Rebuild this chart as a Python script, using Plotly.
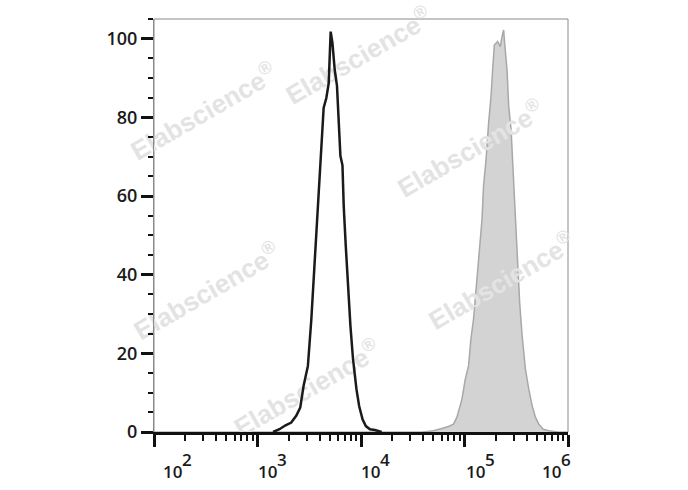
import plotly.graph_objects as go

# ---- data (x given as log10 of fluorescence) ----
black_log_fl = [3.15, 3.212, 3.271, 3.326, 3.374, 3.413, 3.445, 3.487, 3.520, 3.552,
                3.574, 3.600, 3.627, 3.639, 3.665, 3.688, 3.707, 3.724, 3.746, 3.768,
                3.785, 3.801, 3.821, 3.833, 3.853, 3.875, 3.898, 3.923, 3.956, 3.982,
                4.015, 4.047, 4.086, 4.134, 4.20]
black_count = [0, 0.7, 1.7, 2.4, 4.1, 6.2, 11.7, 16.8, 28.6, 42.2,
               52.3, 64.2, 76.9, 82.4, 84.9, 88.7, 101.8, 98.9, 92.1, 88.0,
               79.4, 70.2, 67.8, 57.4, 47.2, 37.1, 26.9, 18.5, 10.9, 6.6,
               3.2, 1.5, 0.7, 0.5, 0]

grey_log_fl = [4.60, 4.699, 4.781, 4.845, 4.893, 4.926, 4.975, 5.007, 5.039, 5.062,
               5.087, 5.113, 5.143, 5.169, 5.184, 5.208, 5.233, 5.256, 5.272, 5.288,
               5.320, 5.346, 5.363, 5.378, 5.395, 5.411, 5.427, 5.450, 5.469, 5.492,
               5.514, 5.533, 5.557, 5.589, 5.621, 5.654, 5.686, 5.718, 5.760, 5.815, 5.90]
grey_count = [0, 0.3, 0.9, 1.4, 2.0, 3.7, 8.3, 13.4, 16.8, 23.6,
              28.6, 37.1, 45.6, 54.0, 62.5, 69.2, 78.6, 85.3, 92.1, 98.4,
              99.3, 98.0, 100.5, 102.2, 96.7, 92.1, 82.8, 76.9, 66.7, 54.0,
              41.3, 32.9, 24.4, 15.9, 10.9, 6.6, 3.7, 2.0, 0.7, 0.3, 0]

y_tick_vals = [0, 20, 40, 60, 80, 100]
x_decades = [2, 3, 4, 5, 6]
x_tick_base = "10"

watermark_text = "Elabscience<sup>®</sup>"
# centres in paper coordinates, and whether drawn above the data
watermark_x = [0.495, 0.12, 0.765, 0.128, 0.84, 0.37]
watermark_y = [0.91, 0.775, 0.685, 0.34, 0.365, 0.105]
watermark_above = [False, False, True, False, True, False]
label_xshift = [7, -2, -2, -1, -28]

FONT = "Open Sans"
fig = go.Figure()

fig.add_trace(go.Scatter(
    x=[10 ** v for v in grey_log_fl], y=grey_count, mode="lines",
    fill="tozeroy", fillcolor="#d3d3d3",
    line=dict(color="#a8a8a8", width=1.5), hoverinfo="skip", showlegend=False))
fig.add_trace(go.Scatter(
    x=[10 ** v for v in black_log_fl], y=black_count, mode="lines",
    line=dict(color="#1a1a1a", width=2.5), hoverinfo="skip", showlegend=False))

minor_x = [m * 10 ** d for d in x_decades[:-1] for m in range(2, 10)]

fig.update_layout(
    width=688, height=490,
    margin=dict(l=154, r=120, t=19, b=58, pad=0),
    paper_bgcolor="white", plot_bgcolor="white",
    showlegend=False,
    xaxis=dict(
        type="log", range=[x_decades[0], x_decades[-1]],
        showline=True, linecolor="#111111", linewidth=3,
        ticks="outside", tickvals=[10 ** d for d in x_decades],
        ticklen=12, tickwidth=3, tickcolor="#111111",
        showticklabels=False, showgrid=False, zeroline=False,
        minor=dict(ticks="outside", tickvals=minor_x, ticklen=6,
                   tickwidth=2, tickcolor="#111111", showgrid=False),
    ),
    yaxis=dict(
        range=[0, 105],
        showline=True, linecolor="#8a8a8a", linewidth=1,
        ticks="outside", tickvals=y_tick_vals,
        ticklen=12, tickwidth=3, tickcolor="#111111",
        tickfont=dict(family=FONT, size=18, color="#1a1a1a", weight=600),
        showgrid=False, zeroline=False,
        minor=dict(ticks="outside", dtick=5, ticklen=5, tickwidth=2,
                   tickcolor="#111111", showgrid=False),
    ),
)

# frame
fig.add_shape(type="rect", xref="paper", yref="paper", x0=0, y0=0, x1=1, y1=1,
              line=dict(color="#8a8a8a", width=1), fillcolor="rgba(0,0,0,0)",
              layer="below")

# watermarks
for wx, wy, above in zip(watermark_x, watermark_y, watermark_above):
    fig.add_shape(
        type="rect", xref="paper", yref="paper",
        x0=wx - 0.001, x1=wx + 0.001, y0=wy - 0.001, y1=wy + 0.001,
        line=dict(width=0, color="rgba(0,0,0,0)"), fillcolor="rgba(0,0,0,0)",
        layer="above" if above else "below",
        label=dict(text=watermark_text, textangle=-30, textposition="middle center",
                   font=dict(family="Liberation Sans", size=26, color="#e3e3e3",
                             weight="bold")),
    )

# x tick labels: "10" with a full-size raised exponent
for d, xs in zip(x_decades, label_xshift):
    fig.add_annotation(
        xref="x", yref="paper", x=d, y=0, yanchor="middle", xanchor="left",
        xshift=xs, yshift=-39, showarrow=False, text=x_tick_base,
        font=dict(family=FONT, size=17, color="#1a1a1a", weight=600),
    )
    fig.add_annotation(
        xref="x", yref="paper", x=d, y=0, yanchor="middle", xanchor="left",
        xshift=xs + 19, yshift=-27, showarrow=False, text=str(d),
        font=dict(family=FONT, size=17, color="#1a1a1a", weight=600),
    )

fig.write_html("out.html", config={"displayModeBar": False},
               post_script="document.body.style.margin='0px';")
